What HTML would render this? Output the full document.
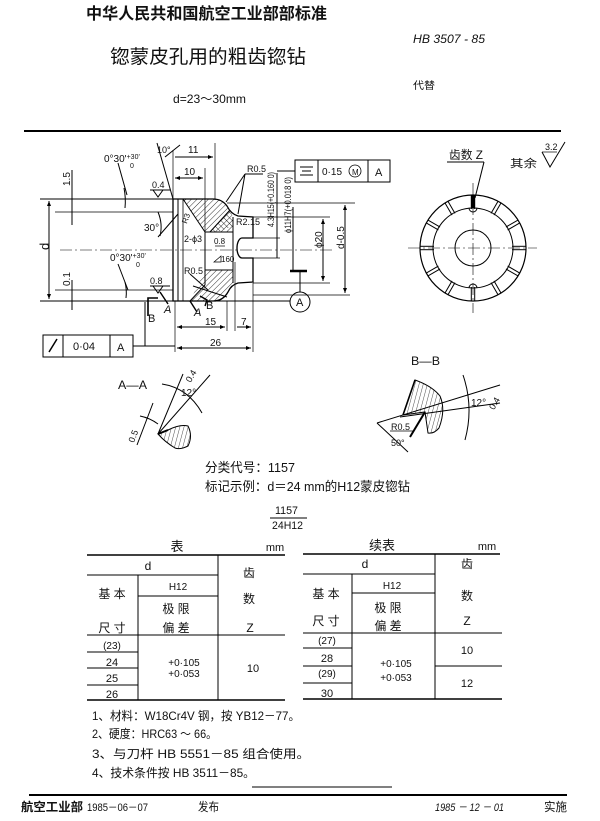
<!DOCTYPE html>
<html><head><meta charset="utf-8"><style>
html,body{margin:0;padding:0;background:#fff;}
svg{display:block;}
text{font-family:"Liberation Sans","Noto Sans CJK SC",sans-serif;fill:#111;}
</style></head><body>
<svg width="600" height="821" viewBox="0 0 600 821" xmlns="http://www.w3.org/2000/svg">
<defs>
<pattern id="h" width="4" height="4" patternUnits="userSpaceOnUse" patternTransform="rotate(45)"><line x1="0" y1="0" x2="0" y2="4" stroke="#000" stroke-width="0.8"/></pattern>
<pattern id="h2" width="4" height="4" patternUnits="userSpaceOnUse" patternTransform="rotate(-45)"><line x1="0" y1="0" x2="0" y2="4" stroke="#000" stroke-width="0.8"/></pattern>
<pattern id="hv" width="4" height="4" patternUnits="userSpaceOnUse" patternTransform="rotate(15)"><line x1="0" y1="0" x2="0" y2="4" stroke="#000" stroke-width="0.7"/></pattern>
<marker id="ar" markerWidth="6" markerHeight="6" refX="5" refY="3" orient="auto" markerUnits="userSpaceOnUse"><path d="M0,1 L5,3 L0,5 Z" fill="#000"/></marker>
</defs>

<!-- Header -->
<text x="86" y="19" font-size="16" font-weight="bold" textLength="241" lengthAdjust="spacingAndGlyphs">中华人民共和国航空工业部部标准</text>
<text x="110" y="63" font-size="19" textLength="196" lengthAdjust="spacingAndGlyphs">锪蒙皮孔用的粗齿锪钻</text>
<text x="413" y="43" font-size="12" font-style="italic" textLength="72" lengthAdjust="spacingAndGlyphs">HB 3507 - 85</text>
<text x="413" y="89" font-size="10" fill="#555" textLength="22" lengthAdjust="spacingAndGlyphs">代替</text>
<text x="173" y="103" font-size="12" textLength="73" lengthAdjust="spacingAndGlyphs">d=23～30mm</text>
<line x1="24" y1="131" x2="561" y2="131" stroke="#000" stroke-width="2"/>

<!-- Main drawing -->
<g stroke="#000" stroke-width="1" fill="none">
  <!-- extension lines -->
  <line x1="40" y1="199" x2="173" y2="199"/>
  <line x1="40" y1="301" x2="290" y2="301"/>
  <line x1="55" y1="212" x2="173" y2="212" stroke-width="0.7"/>
  <line x1="55" y1="290" x2="173" y2="290" stroke-width="0.7"/>
  <line x1="49" y1="201" x2="49" y2="299" marker-end="url(#ar)"/>
  <line x1="49" y1="299" x2="49" y2="201" marker-end="url(#ar)"/>
  <line x1="72" y1="170" x2="72" y2="225"/>
  <line x1="72" y1="280" x2="72" y2="310"/>
  <!-- centerline -->
  <line x1="60" y1="250" x2="335" y2="250" stroke-width="0.6" stroke-dasharray="12 3 2 3"/>
  <!-- top dims -->
  <line x1="157" y1="143" x2="173" y2="199"/>
  <line x1="173" y1="150" x2="173" y2="199" stroke-width="0.7"/>
  <line x1="215" y1="143" x2="215" y2="200" stroke-width="0.7"/>
  <line x1="205" y1="168" x2="205" y2="232" stroke-width="0.7"/>
  <line x1="175" y1="157" x2="213" y2="157" marker-end="url(#ar)"/>
  <line x1="175" y1="178" x2="203" y2="178" marker-end="url(#ar)"/>
  <line x1="203" y1="178" x2="175" y2="178" marker-end="url(#ar)"/>
  <line x1="180" y1="145" x2="165" y2="157"/>
  <!-- angle leaders -->
  <line x1="118" y1="163" x2="127" y2="195"/>
  <path d="M124,188 Q126,198 125,208"/>
  <line x1="118" y1="264" x2="128" y2="290"/>
  <path d="M125,282 Q127,290 126,298"/>
  <path d="M158,212 Q163,224 160,236"/>
  <line x1="158" y1="237" x2="178" y2="214"/>
  <path d="M153,190 L158,197 L163,190" />
  <line x1="150" y1="190" x2="170" y2="190"/>
  <path d="M153,286 L158,293 L163,286" />
  <line x1="150" y1="286" x2="170" y2="286"/>

  <!-- cutter hatched -->
  <polygon points="183,199 213,199 222,200 227,206 231,214 233,217 233,232 205,232" fill="url(#h)" stroke="none"/>
  <polygon points="205,270 233,270 233,283 228,292 223,300 213,301 190,301" fill="url(#h)" stroke="none"/>
  <polygon points="210,232 230,210 233,217 233,226 218,232" fill="url(#h2)" stroke="none"/>
  <!-- cutter outline -->
  <path d="M173,199 L213,199 Q222,199 227,206 Q231,214 238,216 L253,217 L253,238 L242,238 A5,10 0 0 0 242,258 L253,258 L253,282 L238,283 Q231,285 228,292 Q223,301 213,301 L173,301 Z" stroke-width="1.3"/>
  <line x1="178" y1="199" x2="178" y2="301"/>
  <line x1="183" y1="199" x2="183" y2="301" stroke-width="0.8"/>
  <line x1="183" y1="199" x2="205" y2="232"/>
  <line x1="205" y1="232" x2="233" y2="232"/>
  <line x1="205" y1="270" x2="233" y2="270"/>
  <line x1="205" y1="232" x2="205" y2="285"/>
  <line x1="233" y1="217" x2="233" y2="283"/>
  <line x1="210" y1="232" x2="230" y2="210"/>
  <line x1="193" y1="286" x2="227" y2="297"/>
  <line x1="190" y1="301" x2="205" y2="285"/>
  <line x1="215" y1="246" x2="225" y2="246" stroke-width="0.7"/>
  <path d="M214,262 L221,256 L221,262 Z" stroke-width="0.7"/>
  <!-- R0.5 leaders -->
  <line x1="245" y1="174" x2="263" y2="174"/>
  <line x1="245" y1="174" x2="226" y2="202"/>
  <line x1="245" y1="174" x2="238" y2="214"/>
  <line x1="190" y1="274" x2="208" y2="290"/>
  <!-- right dims -->
  <line x1="227" y1="203" x2="355" y2="203" stroke-width="0.7"/>
  <line x1="253" y1="217" x2="330" y2="217" stroke-width="0.7"/>
  <line x1="253" y1="283" x2="330" y2="283" stroke-width="0.7"/>
  <line x1="253" y1="295" x2="350" y2="295" stroke-width="0.7"/>
  <line x1="253" y1="238" x2="280" y2="238" stroke-width="0.7"/>
  <line x1="253" y1="258" x2="280" y2="258" stroke-width="0.7"/>
  <line x1="277" y1="173" x2="277" y2="258"/>
  <line x1="277" y1="171" x2="295" y2="171"/>
  <line x1="293" y1="207" x2="293" y2="270"/>
  <line x1="323" y1="219" x2="323" y2="281" marker-end="url(#ar)"/>
  <line x1="323" y1="281" x2="323" y2="219" marker-end="url(#ar)"/>
  <line x1="345" y1="205" x2="345" y2="293" marker-end="url(#ar)"/>
  <line x1="345" y1="293" x2="345" y2="205" marker-end="url(#ar)"/>
  <line x1="290" y1="271" x2="307" y2="271" stroke-width="2.5"/>
  <line x1="300" y1="272" x2="300" y2="292"/>
  <circle cx="300" cy="302" r="10"/>
  <!-- bottom dims -->
  <line x1="175" y1="301" x2="175" y2="352" stroke-width="0.7"/>
  <line x1="227" y1="301" x2="227" y2="331" stroke-width="0.7"/>
  <line x1="235" y1="262" x2="235" y2="331" stroke-width="0.7"/>
  <line x1="253" y1="283" x2="253" y2="352" stroke-width="0.7"/>
  <line x1="177" y1="327" x2="225" y2="327" marker-end="url(#ar)"/>
  <line x1="225" y1="327" x2="177" y2="327" marker-end="url(#ar)"/>
  <line x1="237" y1="327" x2="251" y2="327" marker-end="url(#ar)"/>
  <line x1="177" y1="348" x2="251" y2="348" marker-end="url(#ar)"/>
  <line x1="251" y1="348" x2="177" y2="348" marker-end="url(#ar)"/>
  <!-- section markers -->
  <path d="M158,298 L148,298 L148,316" stroke-width="1.6"/>
  <line x1="160" y1="292" x2="168" y2="304" stroke-width="1.4"/>
  <line x1="190" y1="301" x2="197" y2="312" stroke-width="1.4"/>
  <path d="M200,296 L207,300 L205,306" stroke-width="1.4"/>
  <!-- frames -->
  <rect x="295" y="160" width="95" height="22"/>
  <line x1="318" y1="160" x2="318" y2="182"/>
  <line x1="368" y1="160" x2="368" y2="182"/>
  <line x1="300" y1="167" x2="313" y2="167"/>
  <line x1="302" y1="171" x2="311" y2="171"/>
  <line x1="300" y1="175" x2="313" y2="175"/>
  <circle cx="355" cy="171" r="6" stroke-width="0.8"/>
  <rect x="43" y="335" width="90" height="22"/>
  <line x1="63" y1="335" x2="63" y2="357"/>
  <line x1="110" y1="335" x2="110" y2="357"/>
  <line x1="49" y1="352" x2="57" y2="339" stroke-width="1.5"/>
  <line x1="133" y1="346" x2="175" y2="346"/>
  <line x1="145" y1="302" x2="145" y2="346"/>
</g>

<g font-size="10">
  <text x="45" y="254" font-size="13" transform="rotate(-90 45 250)">d</text>
  <text x="62" y="186" transform="rotate(-90 66 182)">1.5</text>
  <text x="62" y="286" transform="rotate(-90 66 282)">0.1</text>
  <text x="104" y="162">0°30'<tspan font-size="7" dy="-3">+30'</tspan></text>
  <text x="130" y="168" font-size="7">0</text>
  <text x="110" y="261">0°30'<tspan font-size="7" dy="-3">+30'</tspan></text>
  <text x="136" y="267" font-size="7">0</text>
  <text x="157" y="153" font-size="9">10°</text>
  <text x="188" y="153">11</text>
  <text x="184" y="175">10</text>
  <text x="152" y="188" font-size="9">0.4</text>
  <text x="150" y="284" font-size="9">0.8</text>
  <text x="144" y="231">30°</text>
  <text x="247" y="172" font-size="9">R0.5</text>
  <text x="236" y="225" font-size="9">R2.15</text>
  <text x="184" y="242" font-size="9">2-ϕ3</text>
  <text x="181" y="224" font-size="8" transform="rotate(-70 184 220)">R3</text>
  <text x="214" y="244" font-size="8">0.8</text>
  <text x="221" y="262" font-size="8">160</text>
  <text x="184" y="274" font-size="9">R0.5</text>
  <text x="273" y="232" font-size="9" transform="rotate(-90 271 229)" textLength="55" lengthAdjust="spacingAndGlyphs">4.3H15(+0.160 0)</text>
  <text x="290" y="238" font-size="9" transform="rotate(-90 288 235)" textLength="56" lengthAdjust="spacingAndGlyphs">ϕ11H7(+0.018 0)</text>
  <text x="320" y="254" transform="rotate(-90 318 250)">ϕ20</text>
  <text x="341" y="254" transform="rotate(-90 340 250)">d-0.5</text>
  <text x="296" y="306" font-size="11">A</text>
  <text x="322" y="175" font-size="10">0·15</text>
  <text x="352" y="175" font-size="8">M</text>
  <text x="375" y="176" font-size="11">A</text>
  <text x="73" y="350" font-size="11">0·04</text>
  <text x="117" y="351" font-size="11">A</text>
  <text x="148" y="322" font-size="11">B</text>
  <text x="164" y="313" font-size="11" font-style="italic">A</text>
  <text x="194" y="316" font-size="11" font-style="italic">A</text>
  <text x="206" y="309" font-size="11">B</text>
  <text x="205" y="325">15</text>
  <text x="241" y="325">7</text>
  <text x="210" y="346">26</text>
</g>

<!-- Right view -->
<g stroke="#000" stroke-width="1" fill="none">
  <circle cx="473" cy="248" r="53" stroke-width="1.2"/>
  <circle cx="473" cy="248" r="40"/>
  <circle cx="473" cy="248" r="18"/>
  <line x1="408" y1="248" x2="537" y2="248" stroke-width="0.6" stroke-dasharray="12 3 2 3"/>
  <line x1="473" y1="183" x2="473" y2="313" stroke-width="0.6" stroke-dasharray="12 3 2 3"/>
  <g id="slots">
    <g transform="rotate(0 473 248)"><line x1="471.3" y1="195" x2="471.3" y2="209"/><line x1="474.7" y1="195" x2="474.7" y2="209"/></g>
    <g transform="rotate(30 473 248)"><line x1="471.3" y1="195" x2="471.3" y2="209"/><line x1="474.7" y1="195" x2="474.7" y2="209"/></g>
    <g transform="rotate(60 473 248)"><line x1="471.3" y1="195" x2="471.3" y2="209"/><line x1="474.7" y1="195" x2="474.7" y2="209"/></g>
    <g transform="rotate(90 473 248)"><line x1="471.3" y1="195" x2="471.3" y2="209"/><line x1="474.7" y1="195" x2="474.7" y2="209"/></g>
    <g transform="rotate(120 473 248)"><line x1="471.3" y1="195" x2="471.3" y2="209"/><line x1="474.7" y1="195" x2="474.7" y2="209"/></g>
    <g transform="rotate(150 473 248)"><line x1="471.3" y1="195" x2="471.3" y2="209"/><line x1="474.7" y1="195" x2="474.7" y2="209"/></g>
    <g transform="rotate(180 473 248)"><line x1="471.3" y1="195" x2="471.3" y2="209"/><line x1="474.7" y1="195" x2="474.7" y2="209"/></g>
    <g transform="rotate(210 473 248)"><line x1="471.3" y1="195" x2="471.3" y2="209"/><line x1="474.7" y1="195" x2="474.7" y2="209"/></g>
    <g transform="rotate(240 473 248)"><line x1="471.3" y1="195" x2="471.3" y2="209"/><line x1="474.7" y1="195" x2="474.7" y2="209"/></g>
    <g transform="rotate(270 473 248)"><line x1="471.3" y1="195" x2="471.3" y2="209"/><line x1="474.7" y1="195" x2="474.7" y2="209"/></g>
    <g transform="rotate(300 473 248)"><line x1="471.3" y1="195" x2="471.3" y2="209"/><line x1="474.7" y1="195" x2="474.7" y2="209"/></g>
    <g transform="rotate(330 473 248)"><line x1="471.3" y1="195" x2="471.3" y2="209"/><line x1="474.7" y1="195" x2="474.7" y2="209"/></g>
  </g>
  <rect x="471.5" y="195" width="3" height="13" fill="#000"/>
  <path d="M469,208 A4,4 0 0 0 477,208"/>
  <path d="M469,288 A4,4 0 0 1 477,288"/>
  <line x1="447" y1="162" x2="484" y2="162"/>
  <line x1="484" y1="162" x2="475" y2="198"/>
  <path d="M542,152 L550,167 L565,142" stroke-width="1"/>
  <line x1="542" y1="152" x2="557" y2="152" stroke-width="0.7"/>
</g>
<text x="449" y="159" font-size="12" textLength="34" lengthAdjust="spacingAndGlyphs">齿数 Z</text>
<text x="510" y="167" font-size="11" textLength="27" lengthAdjust="spacingAndGlyphs">其余</text>
<text x="545" y="150" font-size="9">3.2</text>

<!-- A-A -->
<text x="118" y="389" font-size="12" textLength="29" lengthAdjust="spacingAndGlyphs">A—A</text>
<g stroke="#000" stroke-width="1" fill="none">
  <path d="M158,434 L168,430 Q180,424 188,426 Q193,436 188,446 Q180,450 175,448 Q165,442 158,434 Z" fill="url(#hv)"/>
  <line x1="158" y1="434" x2="168" y2="430" stroke-width="2"/>
  <line x1="158" y1="434" x2="210" y2="375"/>
  <line x1="158" y1="434" x2="183" y2="374"/>
  <path d="M162,384 Q188,388 202,413"/>
  <line x1="153" y1="403" x2="137" y2="445"/>
  <path d="M140,416 Q150,418 158,424"/>
</g>
<text x="181" y="396" font-size="10">12°</text>
<text x="186" y="381" font-size="9" transform="rotate(-60 190 378)">0.4</text>
<text x="127" y="441" font-size="9" transform="rotate(-70 132 437)">0.5</text>

<!-- B-B -->
<text x="411" y="365" font-size="12" textLength="29" lengthAdjust="spacingAndGlyphs">B—B</text>
<g stroke="#000" stroke-width="1" fill="none">
  <path d="M415,380 Q432,386 440,396 Q446,410 439,428 Q434,434 428,433 L425,412 L403,415 Z" fill="url(#hv)"/>
  <line x1="415" y1="380" x2="403" y2="415" stroke-width="1.6"/>
  <line x1="425" y1="412" x2="410" y2="437" stroke-width="2"/>
  <line x1="377" y1="423" x2="500" y2="385"/>
  <line x1="400" y1="417" x2="500" y2="403"/>
  <path d="M463,375 Q474,407 465,440"/>
  <line x1="377" y1="423" x2="408" y2="452"/>
  <line x1="390" y1="431" x2="413" y2="431" stroke-width="0.7"/>
</g>
<text x="391" y="430" font-size="9">R0.5</text>
<text x="391" y="446" font-size="9">50°</text>
<text x="471" y="406" font-size="10">12°</text>
<text x="488" y="408" font-size="9" transform="rotate(-60 493 404)">0.4</text>

<!-- text block -->
<text x="205" y="472" font-size="13" textLength="90" lengthAdjust="spacingAndGlyphs">分类代号：1157</text>
<text x="205" y="491" font-size="13" textLength="205" lengthAdjust="spacingAndGlyphs">标记示例：d＝24 mm的H12蒙皮锪钻</text>
<text x="275" y="514" font-size="11" textLength="23" lengthAdjust="spacingAndGlyphs">1157</text>
<line x1="270" y1="518" x2="307" y2="518" stroke="#000" stroke-width="1"/>
<text x="272" y="529" font-size="11" textLength="31" lengthAdjust="spacingAndGlyphs">24H12</text>

<!-- Left table -->
<g stroke="#000" stroke-width="1">
  <line x1="87" y1="555" x2="285" y2="555" stroke-width="1.6"/>
  <line x1="218" y1="555" x2="218" y2="700"/>
  <line x1="138" y1="575" x2="138" y2="700"/>
  <line x1="87" y1="575" x2="218" y2="575"/>
  <line x1="138" y1="596" x2="218" y2="596"/>
  <line x1="87" y1="635" x2="285" y2="635"/>
  <line x1="87" y1="652" x2="138" y2="652"/>
  <line x1="87" y1="668" x2="138" y2="668"/>
  <line x1="87" y1="685" x2="138" y2="685"/>
  <line x1="87" y1="700" x2="285" y2="700" stroke-width="1.4"/>
</g>
<g font-size="12" text-anchor="middle">
  <text x="177" y="551" font-size="13">表</text>
  <text x="275" y="551" font-size="11">mm</text>
  <text x="148" y="570">d</text>
  <text x="178" y="590" font-size="10">H12</text>
  <text x="112" y="598">基  本</text>
  <text x="112" y="632">尺  寸</text>
  <text x="176" y="613">极  限</text>
  <text x="176" y="632">偏  差</text>
  <text x="249" y="577">齿</text>
  <text x="249" y="603">数</text>
  <text x="250" y="632">Z</text>
  <text x="112" y="649" font-size="10">(23)</text>
  <text x="112" y="666" font-size="11">24</text>
  <text x="112" y="682" font-size="11">25</text>
  <text x="112" y="698" font-size="11">26</text>
  <text x="184" y="666" font-size="10">+0·105</text>
  <text x="184" y="677" font-size="10">+0·053</text>
  <text x="253" y="672" font-size="11">10</text>
</g>

<!-- Right table -->
<g stroke="#000" stroke-width="1">
  <line x1="303" y1="554" x2="500" y2="554" stroke-width="1.6"/>
  <line x1="435" y1="554" x2="435" y2="699"/>
  <line x1="352" y1="574" x2="352" y2="699"/>
  <line x1="303" y1="574" x2="435" y2="574"/>
  <line x1="352" y1="593" x2="435" y2="593"/>
  <line x1="303" y1="633" x2="502" y2="633"/>
  <line x1="303" y1="648" x2="352" y2="648"/>
  <line x1="303" y1="666" x2="352" y2="666"/>
  <line x1="303" y1="683" x2="352" y2="683"/>
  <line x1="435" y1="666" x2="502" y2="666"/>
  <line x1="303" y1="699" x2="502" y2="699" stroke-width="1.4"/>
</g>
<g font-size="12" text-anchor="middle">
  <text x="382" y="550" font-size="13">续表</text>
  <text x="487" y="550" font-size="11">mm</text>
  <text x="365" y="568">d</text>
  <text x="392" y="589" font-size="10">H12</text>
  <text x="326" y="598">基  本</text>
  <text x="326" y="625">尺  寸</text>
  <text x="388" y="612">极  限</text>
  <text x="388" y="630">偏  差</text>
  <text x="467" y="568">齿</text>
  <text x="467" y="600">数</text>
  <text x="467" y="625">Z</text>
  <text x="327" y="644" font-size="10">(27)</text>
  <text x="327" y="662" font-size="11">28</text>
  <text x="327" y="677" font-size="10">(29)</text>
  <text x="327" y="697" font-size="11">30</text>
  <text x="396" y="667" font-size="10">+0·105</text>
  <text x="396" y="681" font-size="10">+0·053</text>
  <text x="467" y="654" font-size="11">10</text>
  <text x="467" y="687" font-size="11">12</text>
</g>

<!-- Notes -->
<g font-size="12">
  <text x="92" y="720" textLength="208" lengthAdjust="spacingAndGlyphs">1、材料：W18Cr4V 钢，按 YB12－77。</text>
  <text x="92" y="738" textLength="125" lengthAdjust="spacingAndGlyphs">2、硬度：HRC63 ～ 66。</text>
  <text x="92" y="758" textLength="218" lengthAdjust="spacingAndGlyphs">3、与刀杆  HB 5551－85  组合使用。</text>
  <text x="92" y="777" textLength="163" lengthAdjust="spacingAndGlyphs">4、技术条件按 HB 3511－85。</text>
</g>
<line x1="252" y1="787" x2="392" y2="787" stroke="#000" stroke-width="1"/>

<!-- Footer -->
<line x1="29" y1="795" x2="567" y2="795" stroke="#000" stroke-width="2"/>
<text x="21" y="811" font-size="12" font-weight="bold" textLength="62" lengthAdjust="spacingAndGlyphs">航空工业部</text>
<text x="87" y="811" font-size="11" textLength="61" lengthAdjust="spacingAndGlyphs">1985－06－07</text>
<text x="198" y="811" font-size="12" textLength="21" lengthAdjust="spacingAndGlyphs">发布</text>
<text x="435" y="811" font-size="11" font-style="italic" textLength="69" lengthAdjust="spacingAndGlyphs">1985 － 12 － 01</text>
<text x="544" y="811" font-size="12" textLength="23" lengthAdjust="spacingAndGlyphs">实施</text>
</svg>
</body></html>
